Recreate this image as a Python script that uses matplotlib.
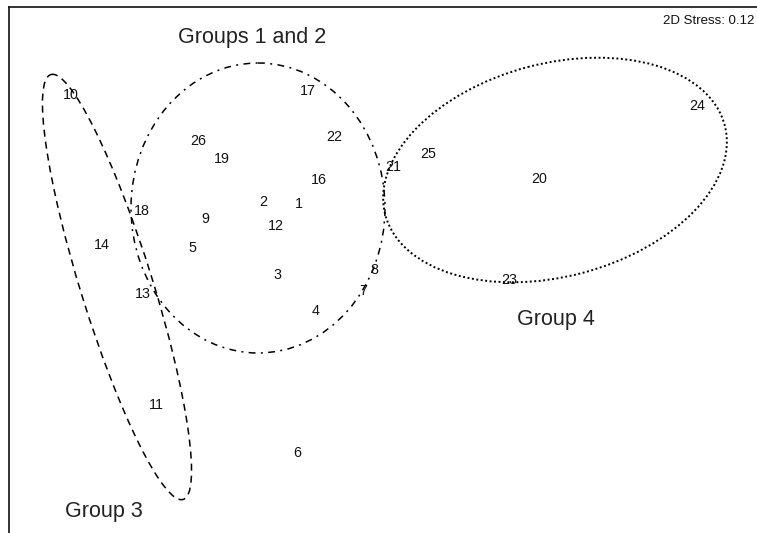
import matplotlib
matplotlib.use("Agg")
import matplotlib.pyplot as plt
from matplotlib.patches import Ellipse

# sample numbers and their ordination positions
labels = ["1", "2", "3", "4", "5", "6", "7", "8", "9", "10", "11", "12", "13",
          "14", "16", "17", "18", "19", "20", "21", "22", "23", "24", "25", "26"]
xs = [299, 263, 277, 316, 192, 297, 363, 374, 205, 71, 156, 276, 143,
      102, 319, 308, 142, 222, 539, 393, 334, 509, 697, 428, 198]
ys = [204, 202, 275, 311, 248, 453, 291, 270, 219, 95, 405, 226, 294,
      245, 180, 91, 211, 159, 179, 167, 137, 280, 106, 154, 141]

# group ellipses: centre x, centre y, width, height, angle, style
groups = ["Groups 1 and 2", "Group 3", "Group 4"]
ell_cx = [258, 117, 555]
ell_cy = [208, 287, 170]
ell_w = [254, 72, 351]
ell_h = [290, 445, 213]
ell_ang = [0, -17.3, -14.8]
ell_ls = [(0, (4.5, 3.5, 1.3, 3.5)), (0, (4.6, 3.3)), (0, (1, 1.3))]
ell_lw = [1.1, 1.1, 1.4]

label_x = [252, 104, 556]
label_y = [38, 511, 319]

stress = 0.12

plt.rcParams["font.family"] = ["Liberation Sans", "DejaVu Sans"]

fig = plt.figure(figsize=(7.57, 5.33), dpi=100)
left = 8.5 / 757
top = 6.5 / 533
ax = fig.add_axes([left, 0, 1 - left, 1 - top])
ax.set_xlim(8.5, 757)
ax.set_ylim(533, 6.5)
ax.set_xticks([])
ax.set_yticks([])
for side in ["right", "bottom"]:
    ax.spines[side].set_visible(False)
for side in ["left", "top"]:
    ax.spines[side].set_linewidth(1.2)
    ax.spines[side].set_color("#111111")

for i in range(len(groups)):
    e = Ellipse((ell_cx[i], ell_cy[i]), ell_w[i], ell_h[i], angle=ell_ang[i],
                fill=False, edgecolor="black", linewidth=ell_lw[i],
                linestyle=ell_ls[i])
    ax.add_patch(e)
    ax.text(label_x[i], label_y[i], groups[i], fontsize=15.5, color="#222222",
            ha="center", va="center")

for lab, x, y in zip(labels, xs, ys):
    ax.text(x, y, lab, fontsize=10.3, color="#111111", ha="center", va="center")

ax.text(754, 21, f"2D Stress: {stress}", fontsize=9.5, color="#111111",
        ha="right", va="center")

fig.savefig("out.png", dpi=100)
